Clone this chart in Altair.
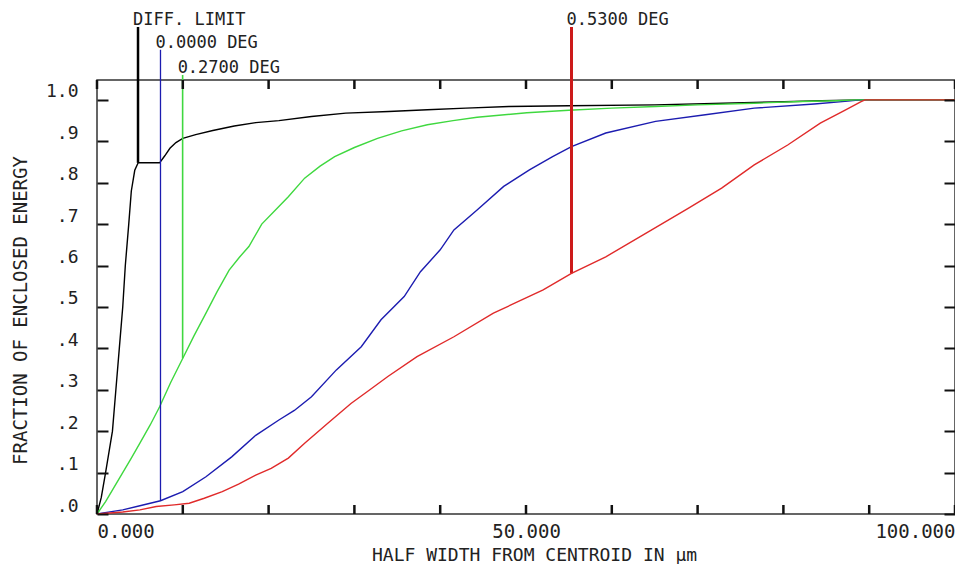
import altair as alt
import pandas as pd

# ---- data (radius in micrometres, enclosed energy fraction) ----
diff_r = [0, 0.5, 1.0, 1.4, 1.8, 2.2, 2.6, 3.0, 3.3, 3.7, 4.0, 4.4, 4.8, 6.0, 7.3, 7.9, 8.5,
          9.2, 10.0, 11.5, 13.5, 16.0, 18.5, 21.2, 25.0, 29.0, 34.0, 38.5, 43.0, 48.0, 55.0,
          65.0, 73.0, 79.0, 84.5, 89.0, 100]
diff_ee = [0, 0.04, 0.10, 0.15, 0.20, 0.30, 0.40, 0.50, 0.60, 0.70, 0.78, 0.83, 0.848, 0.848,
           0.848, 0.865, 0.883, 0.897, 0.907, 0.916, 0.926, 0.937, 0.945, 0.950, 0.960, 0.968,
           0.972, 0.976, 0.980, 0.984, 0.986, 0.988, 0.992, 0.995, 0.998, 1.0, 1.0]

f000_r = [0, 1.5, 3.0, 5.0, 7.4, 10.0, 12.7, 15.7, 18.5, 21.2, 23.0, 25.0, 27.9, 30.8, 33.1,
          35.8, 37.7, 40.0, 41.6, 44.3, 47.4, 50.4, 53.1, 55.3, 59.3, 65.1, 70.9, 76.6, 83.6,
          87.5, 89.0, 100]
f000_ee = [0, 0.005, 0.01, 0.02, 0.032, 0.054, 0.09, 0.138, 0.19, 0.227, 0.25, 0.283, 0.348,
           0.404, 0.469, 0.525, 0.585, 0.638, 0.686, 0.734, 0.791, 0.831, 0.863, 0.887, 0.92,
           0.948, 0.964, 0.98, 0.99, 0.997, 1.0, 1.0]

f027_r = [0, 1.0, 2.0, 3.0, 4.0, 5.0, 6.2, 7.3, 8.6, 10.0, 11.3, 12.7, 14.0, 15.4, 16.6, 17.7,
          19.2, 20.8, 22.3, 24.2, 26.0, 27.7, 30.0, 32.7, 35.5, 38.5, 41.5, 44.3, 50.1, 55.0,
          60.0, 65.1, 70.0, 76.6, 82.0, 86.2, 88.5, 100]
f027_ee = [0, 0.03, 0.065, 0.10, 0.135, 0.171, 0.215, 0.259, 0.318, 0.376, 0.43, 0.485, 0.537,
           0.589, 0.62, 0.646, 0.70, 0.734, 0.766, 0.811, 0.84, 0.863, 0.885, 0.907, 0.925, 0.94,
           0.95, 0.958, 0.969, 0.975, 0.98, 0.984, 0.988, 0.992, 0.996, 0.998, 1.0, 1.0]

f053_r = [0, 3.0, 5.0, 6.9, 9.0, 10.75, 12.5, 14.6, 16.5, 18.5, 20.3, 22.3, 24.2, 26.9, 29.6,
          31.8, 33.9, 37.3, 41.6, 46.2, 52.0, 55.3, 59.3, 64.3, 68.9, 72.8, 76.6, 80.5, 84.3,
          87.2, 89.0, 89.5, 100]
f053_ee = [0, 0.005, 0.01, 0.018, 0.022, 0.026, 0.038, 0.054, 0.072, 0.094, 0.11, 0.135, 0.171,
           0.219, 0.267, 0.30, 0.332, 0.38, 0.428, 0.485, 0.541, 0.581, 0.621, 0.682, 0.738,
           0.787, 0.843, 0.891, 0.944, 0.975, 0.995, 1.0, 1.0]

# marker lines (label, radius, curve value at the marker, top of the marker line)
marker_names = ["DIFF. LIMIT", "0.0000 DEG", "0.2700 DEG", "0.5300 DEG"]
marker_r = [4.78, 7.4, 9.98, 55.3]
marker_bottom = [0.848, 0.032, 0.376, 0.581]
marker_top = [1.176, 1.121, 1.06, 1.176]

x_ticks = [0, 10, 20, 30, 40, 50, 60, 70, 80, 90, 100]
y_ticks = [0.0, 0.1, 0.2, 0.3, 0.4, 0.5, 0.6, 0.7, 0.8, 0.9, 1.0]

# ---- styling ----
FONT = "DejaVu Sans Mono"
TXT = "#222222"
TICK = "#111111"
series_colors = ["#000000", "#1c1cb0", "#3fd83f", "#e02a2a"]
marker_colors = ["#000000", "#1c1cb0", "#3fd83f", "#cc1a1a"]
marker_widths = [2.5, 1.3, 1.6, 3.0]
PLOT_W, PLOT_H = 858, 434
XTICK_LEN = 9

xscale = alt.Scale(domain=[0, 100], nice=False, zero=False)
yscale = alt.Scale(domain=[0, 1.048], nice=False, zero=False)

main_x_axis = alt.Axis(
    orient="bottom", values=x_ticks, domain=False, grid=False, ticks=False,
    labelExpr="datum.value % 50 == 0 ? format(datum.value, '.3f') : ''",
    labelFlush=True, labelOverlap=False, labelFont=FONT, labelFontSize=19,
    labelColor=TXT, labelPadding=8,
    title="HALF WIDTH FROM CENTROID IN µm", titleFont=FONT, titleFontSize=18,
    titleFontWeight="normal", titleColor=TXT, titlePadding=5, titleX=437,
)
main_y_axis = alt.Axis(
    orient="left", values=y_ticks, domain=False, grid=False, zindex=1,
    tickSize=11, offset=-11, tickWidth=2, tickColor=TICK,
    labelExpr="replace(format(datum.value, '.1f'), '0.', '.')",
    labelOverlap=False, labelFont=FONT, labelFontSize=18, labelColor=TXT,
    labelPadding=19, labelOffset=-8,
    title="FRACTION OF ENCLOSED ENERGY", titleFont=FONT, titleFontSize=19,
    titleFontWeight="normal", titleColor=TXT, titlePadding=15, titleY=230,
)
right_axis = alt.Axis(orient="right", values=y_ticks, domain=False, grid=False, labels=False,
                      zindex=1, tickSize=11, offset=-11, tickWidth=2, tickColor=TICK, title=None)


def curve(rs, ees, color, xaxis=None, yaxis=None):
    df = pd.DataFrame({"r": rs, "ee": ees})
    return alt.Chart(df).mark_line(color=color, strokeWidth=1.4).encode(
        x=alt.X("r:Q", scale=xscale, axis=xaxis),
        y=alt.Y("ee:Q", scale=yscale, axis=yaxis),
    )


def marker(i):
    df = pd.DataFrame({"name": [marker_names[i]], "r": [marker_r[i]],
                       "bottom": [marker_bottom[i]], "top": [marker_top[i]]})
    rule = alt.Chart(df).mark_rule(color=marker_colors[i], strokeWidth=marker_widths[i]).encode(
        x=alt.X("r:Q", scale=xscale, axis=None),
        y=alt.Y("bottom:Q", scale=yscale, axis=None),
        y2="top:Q",
    )
    text = alt.Chart(df).mark_text(
        align="left", baseline="bottom", dx=-5, dy=2, font=FONT, fontSize=17, color=TXT
    ).encode(
        x=alt.X("r:Q", scale=xscale, axis=None),
        y=alt.Y("top:Q", scale=yscale, axis=None),
        text="name:N",
    )
    return rule, text


# inward x-axis ticks on the bottom and top frame edges, placed by the x scale
xtick_df = pd.DataFrame({"t": x_ticks})
bottom_ticks = alt.Chart(xtick_df).mark_tick(
    color=TICK, thickness=2.5, size=XTICK_LEN, orient="vertical", opacity=1
).encode(
    x=alt.X("t:Q", scale=xscale, axis=None),
    y=alt.value(PLOT_H - XTICK_LEN / 2),
)
top_ticks = alt.Chart(xtick_df).mark_tick(
    color=TICK, thickness=2.5, size=XTICK_LEN, orient="vertical", opacity=1
).encode(
    x=alt.X("t:Q", scale=xscale, axis=None),
    y=alt.value(XTICK_LEN / 2),
)

layers = [
    curve(diff_r, diff_ee, series_colors[0], main_x_axis, main_y_axis),
    curve(f000_r, f000_ee, series_colors[1], None, right_axis),
    curve(f027_r, f027_ee, series_colors[2]),
]
texts = []
for i in range(len(marker_names)):
    rule, text = marker(i)
    layers.append(rule)
    texts.append(text)
layers.append(curve(f053_r, f053_ee, series_colors[3]))
layers.extend([bottom_ticks, top_ticks])
layers.extend(texts)

chart = alt.layer(*layers).resolve_axis(x="independent", y="independent").properties(
    width=PLOT_W, height=PLOT_H,
    autosize=alt.AutoSizeParams(type="none"),
    padding={"left": 89, "top": 72, "right": 0, "bottom": 50},
    background="white",
).configure_view(stroke="#333333", strokeWidth=1.5)

chart.save("out.html", embed_options={"renderer": "svg", "actions": False})
